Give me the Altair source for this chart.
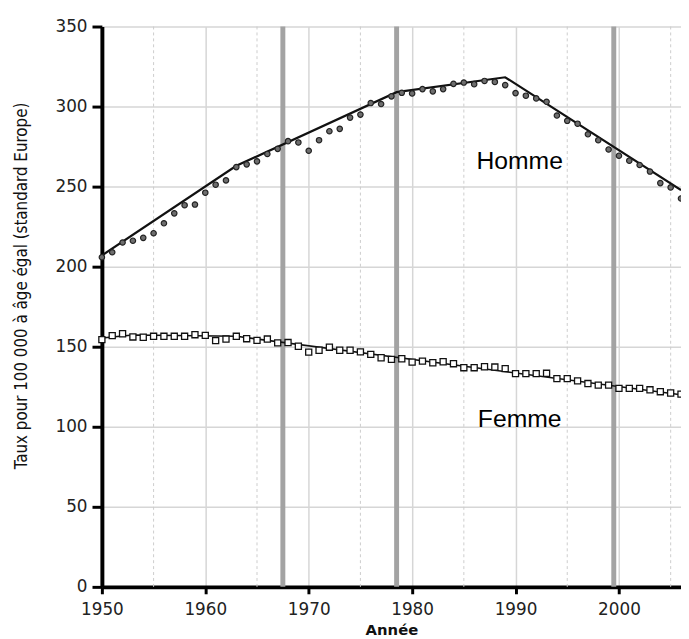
import altair as alt
import pandas as pd

years = list(range(1950, 2007))
homme = [205.9, 209.0, 215.1, 216.2, 218.0, 220.9, 227.1, 233.3, 238.4, 238.8,
         246.2, 251.2, 253.9, 262.2, 263.9, 265.8, 270.4, 273.6, 278.4, 277.6,
         272.4, 279.0, 284.6, 286.1, 293.1, 295.0, 302.2, 301.6, 306.4, 308.6,
         308.2, 310.9, 309.5, 310.9, 314.2, 315.0, 314.0, 316.0, 315.4, 313.4,
         308.4, 306.8, 305.1, 303.0, 294.4, 291.1, 289.3, 282.7, 279.0, 273.2,
         269.3, 266.2, 263.5, 259.4, 252.2, 249.5, 242.6]
femme = [154.4, 156.9, 158.1, 156.1, 155.9, 156.5, 156.5, 156.5, 156.5, 157.5,
         157.1, 153.8, 154.8, 156.5, 155.0, 154.0, 154.8, 152.4, 152.6, 150.3,
         146.6, 147.8, 149.7, 147.8, 147.8, 146.8, 145.2, 143.1, 142.1, 142.5,
         140.4, 141.0, 140.0, 140.6, 139.4, 136.9, 136.9, 137.5, 137.3, 136.3,
         133.2, 133.2, 133.2, 133.4, 130.1, 130.1, 128.7, 127.0, 126.0, 126.0,
         124.0, 124.0, 124.0, 123.1, 121.9, 121.1, 120.4]

homme_trend_x = [1950, 1963, 1978.5, 1989, 2006]
homme_trend_y = [207.0, 263.0, 309.0, 318.3, 247.8]
femme_trend_x = [1950, 1953, 1963, 2006]
femme_trend_y = [155.5, 157.3, 156.5, 120.0]

icd_breaks = [1967.5, 1978.5, 1999.5]
minor_grid = [1955, 1965, 1975, 1985, 1995, 2005]
x_ticks = [1950, 1960, 1970, 1980, 1990, 2000]
y_ticks = [0, 50, 100, 150, 200, 250, 300, 350]

labels = ["Homme", "Femme"]
label_x = [1990.4, 1990.4]
label_y = [261.0, 100.0]

pts_h = pd.DataFrame({"annee": years, "taux": homme})
pts_f = pd.DataFrame({"annee": years, "taux": femme})
tr_h = pd.DataFrame({"annee": homme_trend_x, "taux": homme_trend_y})
tr_f = pd.DataFrame({"annee": femme_trend_x, "taux": femme_trend_y})
df_icd = pd.DataFrame({"annee": icd_breaks})
df_minor = pd.DataFrame({"annee": minor_grid})
df_lab = pd.DataFrame({"label": labels, "annee": label_x, "taux": label_y})

xs = alt.Scale(domain=[1950, 2006], nice=False, zero=False)
ys = alt.Scale(domain=[0, 350], nice=False)

TICK_FONT = "DejaVu Sans"
x_axis = alt.Axis(values=x_ticks, format="d", title="Année",
                  labelFont=TICK_FONT, labelFontSize=17, labelColor="#222222",
                  labelFlush=False, labelPadding=8,
                  domainColor="black", domainWidth=4,
                  tickColor="black", tickWidth=3, tickSize=7,
                  grid=True, gridColor="#d6d6d6", gridWidth=1.5,
                  titleFont="DejaVu Sans", titleFontSize=15, titleFontWeight="bold",
                  titleColor="#111111", titlePadding=5)
y_axis = alt.Axis(values=y_ticks, title="Taux pour 100 000 à âge égal (standard Europe)",
                  labelFont=TICK_FONT, labelFontSize=17, labelColor="#222222",
                  labelPadding=5,
                  domainColor="black", domainWidth=4,
                  tickColor="black", tickWidth=3, tickSize=10,
                  grid=True, gridColor="#d6d6d6", gridWidth=1.5,
                  titleFont="Liberation Sans Narrow, DejaVu Sans Condensed, Roboto Condensed, sans-serif",
                  titleFontSize=17, titleFontWeight="normal", titleColor="#111111",
                  titleX=-81, titleY=262, titleBaseline="middle", titleAngle=270)

minor = alt.Chart(df_minor).mark_rule(color="#cccccc", strokeWidth=1, strokeDash=[3, 3]).encode(
    x=alt.X("annee:Q", scale=xs, axis=x_axis))

icd = alt.Chart(df_icd).mark_rule(color="#a3a3a3", strokeWidth=5).encode(
    x=alt.X("annee:Q", scale=xs))

line_h = alt.Chart(tr_h).mark_line(color="#111111", strokeWidth=2.2).encode(
    x=alt.X("annee:Q", scale=xs),
    y=alt.Y("taux:Q", scale=ys, axis=y_axis))
line_f = alt.Chart(tr_f).mark_line(color="#111111", strokeWidth=1.6).encode(
    x=alt.X("annee:Q", scale=xs), y=alt.Y("taux:Q", scale=ys))

p_h = alt.Chart(pts_h).mark_point(shape="circle", filled=True, fill="#6e6e6e",
                                   stroke="#222222", strokeWidth=1.2, size=30, opacity=1).encode(
    x=alt.X("annee:Q", scale=xs), y=alt.Y("taux:Q", scale=ys))
p_f = alt.Chart(pts_f).mark_point(shape="square", filled=True, fill="white",
                                   stroke="#111111", strokeWidth=1.3, size=38, opacity=1).encode(
    x=alt.X("annee:Q", scale=xs), y=alt.Y("taux:Q", scale=ys))

txt = alt.Chart(df_lab).mark_text(font="Liberation Sans", fontSize=25, color="black",
                                  align="center", baseline="alphabetic").encode(
    x=alt.X("annee:Q", scale=xs), y=alt.Y("taux:Q", scale=ys), text="label:N")

chart = alt.layer(minor, icd, line_h, line_f, p_h, p_f, txt).properties(
    width=586, height=567,
    autosize=alt.AutoSizeParams(type="none"),
    padding={"left": 95, "top": 15, "right": 0, "bottom": 48},
    background="white",
).configure_view(strokeWidth=0)

chart.save("out.html", embed_options={"renderer": "svg", "actions": False})
